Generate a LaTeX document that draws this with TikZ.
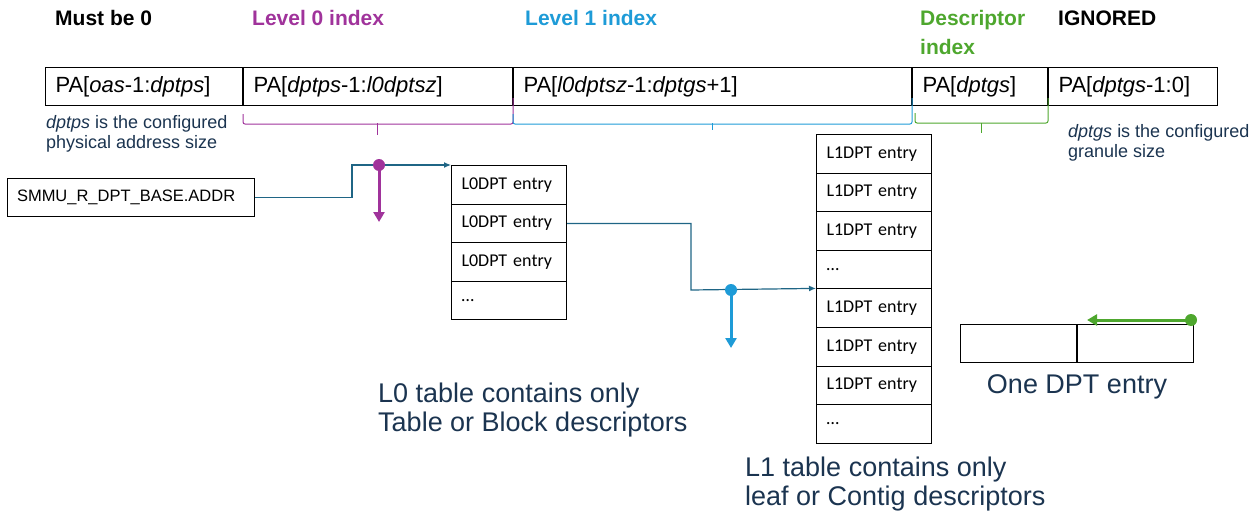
\documentclass[tikz,border=0pt]{standalone}
\usepackage{fontspec}
\setmainfont{Liberation Sans}
\newfontfamily\entryfont{Carlito}
\usetikzlibrary{positioning,arrows.meta}
\definecolor{lvlzero}{HTML}{A0339B}
\definecolor{lvlone}{HTML}{1E9BD7}
\definecolor{descgreen}{HTML}{4EA72E}
\definecolor{linkteal}{HTML}{1F6585}
\definecolor{notenavy}{HTML}{1B3450}

\tikzset{
	field/.style={draw, line width=1pt, anchor=north west, minimum height=38pt, inner xsep=10pt, align=left, font=\fontsize{22}{24}\selectfont},
	entry/.style={draw, line width=1pt, anchor=north west, minimum height=38.6pt, text width=95pt, inner xsep=10pt, align=left, font=\entryfont\fontsize{18}{20}\selectfont},
	header/.style={anchor=west, align=left, inner sep=0pt, font=\fontsize{21}{29}\selectfont\bfseries},
	note/.style={anchor=west, align=left, text=notenavy, inner sep=0pt, font=\fontsize{18}{20}\selectfont},
	bignote/.style={anchor=west, align=left, text=notenavy, inner sep=0pt, font=\fontsize{27}{29}\selectfont},
	link/.style={draw=linkteal, line width=1.2pt, -{Latex[length=7pt,width=6pt]}},
	tap/.style={line width=3pt, -{Triangle[length=10pt,width=11pt]}}
}

\begin{document}
\begin{tikzpicture}[x=1pt,y=-1pt]
	\useasboundingbox (0,0) rectangle (1260,514);

	\node[header] (mustzero) at (55,18) {Must be 0};
	\node[header,text=lvlzero] (lvlzerohd) at (252,18) {Level 0 index};
	\node[header,text=lvlone] (lvlonehd) at (525,18) {Level 1 index};
	\node[header,text=descgreen] (deschd) at (920,32.5) {Descriptor\\index};
	\node[header] (ignhd) at (1058,18) {IGNORED};

	\node[field,text width=177pt] (fa) at (45,67) {PA[\textit{oas}-1:\textit{dptps}]};
	\node[field,text width=249pt] (fb) at (fa.north east) {PA[\textit{dptps}-1:\textit{l0dptsz}]};
	\node[field,text width=378pt] (fc) at (fb.north east) {PA[\textit{l0dptsz}-1:\textit{dptgs}+1]};
	\node[field,text width=115pt] (fd) at (fc.north east) {PA[\textit{dptgs}]};
	\node[field,text width=149pt] (fe) at (fd.north east) {PA[\textit{dptgs}-1:0]};

	\draw[lvlzero,line width=1pt,rounded corners=2pt] (fb.south west) ++(0,8) -- ++(0,10) -| ([yshift=8pt]fb.south east);
	\draw[lvlzero,line width=1pt] (377,123) -- (377,135);
	\draw[lvlone,line width=1pt,rounded corners=2pt] (fc.south west) ++(0,8) -- ++(0,10) -| ([yshift=8pt]fc.south east);
	\draw[lvlone,line width=1pt] (712,123) -- (712,130);
	\draw[descgreen,line width=1pt,rounded corners=2pt] (915,113) -- (915,123) -| ([yshift=8pt]fd.south east);
	\draw[descgreen,line width=1pt] (981,123) -- (981,133);

	\node[note] (psnote) at (46,134) {\textit{dptps} is the configured\\physical address size};
	\node[note] (gsnote) at (1068,143) {\textit{dptgs} is the configured\\granule size};

	\node[draw,line width=1pt,anchor=north west,minimum width=247pt,minimum height=38pt,inner xsep=9pt,font=\fontsize{16.5}{19}\selectfont,text width=228pt,align=left] (base) at (7,178) {SMMU\_R\_DPT\_BASE.ADDR};

	\foreach \i/\txt in {1/L0DPT entry,2/L0DPT entry,3/L0DPT entry,4/\ldots}
		\node[entry] (L0-\i) at (451,{165+38.6*(\i-1)}) {\txt};
	\foreach \i/\txt in {1/L1DPT entry,2/L1DPT entry,3/L1DPT entry,4/\ldots,5/L1DPT entry,6/L1DPT entry,7/L1DPT entry,8/\ldots}
		\node[entry] (L1-\i) at (816,{134+38.6*(\i-1)}) {\txt};

	\draw[link] (base.east) -| (352,165) -- (L0-1.north west);
	\coordinate (lzerotap) at (379,165);
	\draw[lvlzero,tap] (lzerotap) -- ++(0,57);
	\fill[lvlzero] (lzerotap) circle (6pt);

	\draw[link] (L0-2.east) -| (691,290) -- (L1-5.north west);
	\coordinate (lonetap) at (731,290);
	\draw[lvlone,tap] (lonetap) -- ++(0,58);
	\fill[lvlone] (lonetap) circle (6pt);

	\node[bignote] (lzeronote) at (378,410.5) {L0 table contains only\\Table or Block descriptors};
	\node[bignote] (lonenote) at (745,484.5) {L1 table contains only\\leaf or Contig descriptors};

	\node[draw,line width=1pt,anchor=north west,minimum width=116pt,minimum height=38pt] (dpta) at (960,324) {};
	\node[draw,line width=1pt,anchor=north west,minimum width=116pt,minimum height=38pt] (dptb) at (dpta.north east) {};
	\node[text=notenavy,inner sep=0pt,font=\fontsize{27}{29}\selectfont,below=11pt of dpta.south east] (dptnote) {One DPT entry};
	\coordinate (desctap) at (1191,320);
	\draw[descgreen,tap] (desctap) -- (1087,320);
	\fill[descgreen] (desctap) circle (6pt);
\end{tikzpicture}
\end{document}
